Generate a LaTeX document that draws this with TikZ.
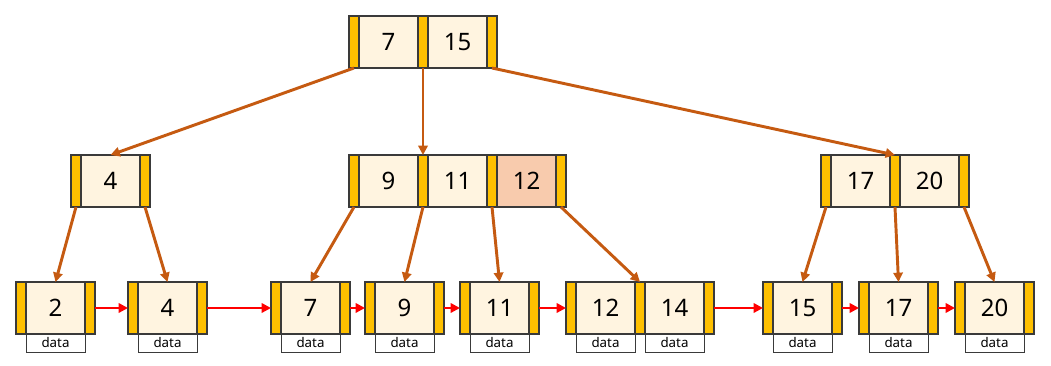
\documentclass[tikz,border=0pt]{standalone}
\usepackage{fontspec}
\setmainfont{Noto Sans}
\usetikzlibrary{arrows.meta,positioning}
\definecolor{barfill}{HTML}{FFC000}
\definecolor{keyfill}{HTML}{FFF4E0}
\definecolor{hitfill}{HTML}{F8CBAD}
\definecolor{edgeclr}{HTML}{C55A11}
\definecolor{frame}{HTML}{3A3A3A}

\begin{document}
\begin{tikzpicture}[x=0.75pt,y=-0.75pt,
  key/.style={draw=frame,line width=0.8pt,fill=keyfill,minimum width=44.25pt,minimum height=39pt,inner sep=0pt,outer sep=0pt,font=\fontsize{18}{21}\selectfont},
  ptr/.style={draw=frame,line width=0.8pt,fill=barfill,minimum width=7.5pt,minimum height=39pt,inner sep=0pt,outer sep=0pt},
  rec/.style={draw=frame,line width=0.6pt,fill=white,minimum width=44.25pt,minimum height=13.5pt,inner sep=0pt,outer sep=0pt,font=\fontsize{10}{11}\selectfont},
  treeedge/.style={-{Triangle[length=7pt,width=7pt]},line width=2.2pt,draw=edgeclr},
  leaflink/.style={-{Triangle[length=7pt,width=7pt]},line width=2.2pt,draw=red}
]
\useasboundingbox (0,0) rectangle (1051,366);

% root
\node[key] (r7) at (388.5,42) {7};
\node[ptr,left=0pt of r7] (rp0) {};
\node[ptr,right=0pt of r7] (rp1) {};
\node[key,right=0pt of rp1] (r15) {15};
\node[ptr,right=0pt of r15] (rp2) {};

% inner level
\node[key] (m4) at (110.5,181) {4};
\node[ptr,left=0pt of m4] (ap0) {};
\node[ptr,right=0pt of m4] (ap1) {};

\node[key] (m9) at (388.5,181) {9};
\node[ptr,left=0pt of m9] (bp0) {};
\node[ptr,right=0pt of m9] (bp1) {};
\node[key,right=0pt of bp1] (m11) {11};
\node[ptr,right=0pt of m11] (bp2) {};
\node[key,fill=hitfill,right=0pt of bp2] (m12) {12};
\node[ptr,right=0pt of m12] (bp3) {};

\node[key] (m17) at (860.5,181) {17};
\node[ptr,left=0pt of m17] (cp0) {};
\node[ptr,right=0pt of m17] (cp1) {};
\node[key,right=0pt of cp1] (m20) {20};
\node[ptr,right=0pt of m20] (cp2) {};

% leaves
\node[key] (l2) at (55.5,308) {2};
\node[ptr,left=0pt of l2] (l2a) {};
\node[ptr,right=0pt of l2] (l2b) {};
\node[rec,below=0pt of l2] (d2) {data};

\node[key] (l4) at (167.5,308) {4};
\node[ptr,left=0pt of l4] (l4a) {};
\node[ptr,right=0pt of l4] (l4b) {};
\node[rec,below=0pt of l4] (d4) {data};

\node[key] (l7) at (310.5,308) {7};
\node[ptr,left=0pt of l7] (l7a) {};
\node[ptr,right=0pt of l7] (l7b) {};
\node[rec,below=0pt of l7] (d7) {data};

\node[key] (l9) at (404.5,308) {9};
\node[ptr,left=0pt of l9] (l9a) {};
\node[ptr,right=0pt of l9] (l9b) {};
\node[rec,below=0pt of l9] (d9) {data};

\node[key] (l11) at (499.5,308) {11};
\node[ptr,left=0pt of l11] (l11a) {};
\node[ptr,right=0pt of l11] (l11b) {};
\node[rec,below=0pt of l11] (d11) {data};

\node[key] (l12) at (605.5,308) {12};
\node[ptr,left=0pt of l12] (l12a) {};
\node[ptr,right=0pt of l12] (l12b) {};
\node[key,right=0pt of l12b] (l14) {14};
\node[ptr,right=0pt of l14] (l14b) {};
\node[rec,below=0pt of l12] (d12) {data};
\node[rec,below=0pt of l14] (d14) {data};

\node[key] (l15) at (802.5,308) {15};
\node[ptr,left=0pt of l15] (l15a) {};
\node[ptr,right=0pt of l15] (l15b) {};
\node[rec,below=0pt of l15] (d15) {data};

\node[key] (l17) at (898.5,308) {17};
\node[ptr,left=0pt of l17] (l17a) {};
\node[ptr,right=0pt of l17] (l17b) {};
\node[rec,below=0pt of l17] (d17) {data};

\node[key] (l20) at (994.5,308) {20};
\node[ptr,left=0pt of l20] (l20a) {};
\node[ptr,right=0pt of l20] (l20b) {};
\node[rec,below=0pt of l20] (d20) {data};

% tree pointers
\draw[treeedge] (rp0.south) -- (m4.north);
\draw[treeedge] (rp1.south) -- (bp1.north);
\draw[treeedge] (rp2.south) -- (cp1.north);
\draw[treeedge] (ap0.south) -- (l2.north);
\draw[treeedge] (ap1.south) -- (l4.north);
\draw[treeedge] (bp0.south) -- (l7.north);
\draw[treeedge] (bp1.south) -- (l9.north);
\draw[treeedge] (bp2.south) -- (l11.north);
\draw[treeedge] (bp3.south) -- (l12b.north);
\draw[treeedge] (cp0.south) -- (l15.north);
\draw[treeedge] (cp1.south) -- (l17.north);
\draw[treeedge] (cp2.south) -- (l20.north);

% leaf chain
\draw[leaflink] (l2b) -- (l4a);
\draw[leaflink] (l4b) -- (l7a);
\draw[leaflink] (l7b) -- (l9a);
\draw[leaflink] (l9b) -- (l11a);
\draw[leaflink] (l11b) -- (l12a);
\draw[leaflink] (l14b) -- (l15a);
\draw[leaflink] (l15b) -- (l17a);
\draw[leaflink] (l17b) -- (l20a);
\end{tikzpicture}
\end{document}
